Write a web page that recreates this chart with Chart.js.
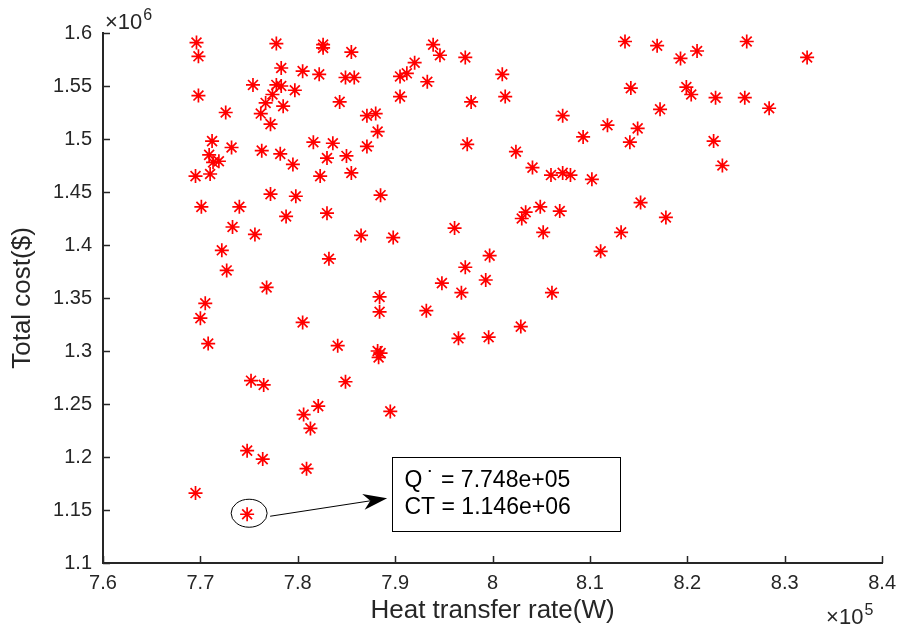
<!DOCTYPE html>
<html>
<head>
<meta charset="utf-8">
<script src="https://cdn.jsdelivr.net/npm/chart.js@4.4.0/dist/chart.umd.min.js"></script>
<style>
    html, body { margin: 0; padding: 0; background: #fff; }
    #wrap { width: 904px; height: 629px; }
</style>
</head>
<body>
<div id="wrap"><canvas id="scatterChart" width="904" height="629"></canvas></div>
<script>
// heat transfer rate (x10^5 W)
var heatRate = [
    7.696, 7.698, 7.698, 7.695, 7.701, 7.705, 7.700, 7.708, 7.695, 7.712,
    7.709, 7.713, 7.719, 7.710, 7.726, 7.732, 7.740, 7.733, 7.722, 7.727,
    7.754, 7.762, 7.767, 7.772, 7.774, 7.778, 7.783, 7.783, 7.778, 7.785,
    7.763, 7.782, 7.795, 7.797, 7.805, 7.772, 7.798, 7.756, 7.788, 7.768,
    7.752, 7.765, 7.748, 7.764, 7.748, 7.822, 7.826, 7.826, 7.816, 7.836,
    7.830, 7.823, 7.843, 7.849, 7.858, 7.855, 7.850, 7.855, 7.830, 7.832,
    7.865, 7.805, 7.821, 7.806, 7.813, 7.809, 7.841, 7.849, 7.871, 7.880,
    7.882, 7.871, 7.885, 7.884, 7.884, 7.882, 7.885, 7.883, 7.898, 7.895,
    7.905, 7.912, 7.920, 7.933, 7.905, 7.932, 7.939, 7.946, 7.972, 8.010,
    8.013, 7.978, 7.974, 7.961, 7.948, 7.968, 7.972, 7.993, 7.997, 7.965,
    7.996, 8.024, 8.041, 8.060, 8.072, 8.080, 8.102, 8.030, 8.034, 8.049,
    8.069, 8.052, 8.061, 8.029, 8.072, 8.093, 8.118, 8.149, 8.141, 8.142,
    8.136, 8.169, 8.193, 8.210, 8.261, 8.323, 8.199, 8.204, 8.229, 8.259,
    8.172, 8.284, 8.227, 8.236, 8.152, 8.178, 8.132, 8.111
];
// total cost (x10^6 $)
var totalCost = [
    1.591, 1.578, 1.541, 1.465, 1.436, 1.345, 1.331, 1.307, 1.166, 1.498,
    1.485, 1.478, 1.479, 1.467, 1.525, 1.492, 1.436, 1.417, 1.395, 1.376,
    1.551, 1.524, 1.534, 1.514, 1.542, 1.551, 1.550, 1.567, 1.590, 1.531,
    1.489, 1.486, 1.476, 1.546, 1.564, 1.448, 1.446, 1.410, 1.427, 1.360,
    1.272, 1.268, 1.206, 1.198, 1.146, 1.561, 1.589, 1.586, 1.497, 1.496,
    1.482, 1.465, 1.535, 1.558, 1.558, 1.582, 1.484, 1.468, 1.430, 1.387,
    1.409, 1.327, 1.248, 1.240, 1.227, 1.189, 1.305, 1.271, 1.522, 1.524,
    1.507, 1.493, 1.447, 1.351, 1.337, 1.300, 1.298, 1.294, 1.407, 1.243,
    1.559, 1.562, 1.572, 1.554, 1.540, 1.338, 1.589, 1.579, 1.577, 1.561,
    1.540, 1.535, 1.495, 1.416, 1.364, 1.355, 1.379, 1.367, 1.390, 1.312,
    1.313, 1.488, 1.473, 1.466, 1.468, 1.466, 1.462, 1.425, 1.431, 1.436,
    1.432, 1.412, 1.355, 1.323, 1.522, 1.502, 1.513, 1.510, 1.497, 1.548,
    1.592, 1.588, 1.576, 1.583, 1.592, 1.577, 1.549, 1.542, 1.539, 1.539,
    1.528, 1.529, 1.498, 1.475, 1.440, 1.426, 1.412, 1.394
];
// annotated minimum cost point
var bestQ = 7.748;
var bestCT = 1.146;

var xTickValues = [7.6, 7.7, 7.8, 7.9, 8.0, 8.1, 8.2, 8.3, 8.4];
var xTickLabels = ['7.6', '7.7', '7.8', '7.9', '8', '8.1', '8.2', '8.3', '8.4'];
var yTickValues = [1.1, 1.15, 1.2, 1.25, 1.3, 1.35, 1.4, 1.45, 1.5, 1.55, 1.6];
var yTickLabels = ['1.1', '1.15', '1.2', '1.25', '1.3', '1.35', '1.4', '1.45', '1.5', '1.55', '1.6'];

var fontFamily = "'Liberation Sans', Arial, Helvetica, sans-serif";
var axisColor = '#262626';

function sciText(v, pow) {
    // matlab style 7.748e+05
    var s = (v * Math.pow(10, pow)).toExponential(3);
    var parts = s.split('e');
    var e = parseInt(parts[1], 10);
    var sign = e < 0 ? '-' : '+';
    e = Math.abs(e);
    return parts[0] + 'e' + sign + (e < 10 ? '0' + e : '' + e);
}

function drawExponent(ctx, x, y, power) {
    ctx.save();
    ctx.fillStyle = axisColor;
    ctx.textBaseline = 'alphabetic';
    ctx.textAlign = 'left';
    ctx.font = '22px ' + fontFamily;
    ctx.fillText('\u00d710', x, y);
    var w = ctx.measureText('\u00d710').width;
    ctx.font = '16px ' + fontFamily;
    ctx.fillText(power, x + w + 1, y - 9);
    ctx.restore();
}

var matlabExtras = {
    id: 'matlabExtras',
    afterDraw: function(chart) {
        var ctx = chart.ctx;
        var xs = chart.scales.x;
        var ys = chart.scales.y;
        var area = chart.chartArea;

        // inward tick marks
        ctx.save();
        ctx.strokeStyle = axisColor;
        ctx.lineWidth = 1.5;
        ctx.beginPath();
        xTickValues.forEach(function(v) {
            var px = Math.round(xs.getPixelForValue(v)) + 0.5;
            ctx.moveTo(px, area.bottom);
            ctx.lineTo(px, area.bottom - 7);
        });
        yTickValues.forEach(function(v) {
            var py = Math.round(ys.getPixelForValue(v)) + 0.5;
            ctx.moveTo(area.left, py);
            ctx.lineTo(area.left + 7, py);
        });
        ctx.stroke();
        ctx.restore();

        drawExponent(ctx, area.left + 2, area.top - 4, '6');
        drawExponent(ctx, area.right - 56, chart.height - 5, '5');

        // annotation: circle, arrow and data tip box
        var bx = xs.getPixelForValue(bestQ);
        var by = ys.getPixelForValue(bestCT);
        ctx.save();
        ctx.strokeStyle = '#000';
        ctx.fillStyle = '#000';
        ctx.lineWidth = 1;
        ctx.beginPath();
        ctx.ellipse(bx + 2, by - 1, 18, 14, 0, 0, Math.PI * 2);
        ctx.stroke();

        var sx = bx + 23, sy = by + 2;
        var tx = bx + 140, ty = by - 16;
        var dx = tx - sx, dy = ty - sy;
        var len = Math.sqrt(dx * dx + dy * dy);
        var ux = dx / len, uy = dy / len;
        var nx = -uy, ny = ux;
        var headLen = 24, headW = 8, notch = 7;
        ctx.beginPath();
        ctx.moveTo(sx, sy);
        ctx.lineTo(tx - (headLen - notch) * ux, ty - (headLen - notch) * uy);
        ctx.stroke();
        ctx.beginPath();
        ctx.moveTo(tx, ty);
        ctx.lineTo(tx - headLen * ux + headW * nx, ty - headLen * uy + headW * ny);
        ctx.lineTo(tx - (headLen - notch) * ux, ty - (headLen - notch) * uy);
        ctx.lineTo(tx - headLen * ux - headW * nx, ty - headLen * uy - headW * ny);
        ctx.closePath();
        ctx.fill();

        var boxX = Math.round(bx + 145) + 0.5, boxY = Math.round(by - 57) + 0.5;
        var boxW = 228, boxH = 74;
        ctx.fillStyle = '#fff';
        ctx.fillRect(boxX, boxY, boxW, boxH);
        ctx.strokeRect(boxX, boxY, boxW, boxH);

        ctx.fillStyle = '#000';
        ctx.font = '23px ' + fontFamily;
        ctx.textBaseline = 'middle';
        ctx.textAlign = 'left';
        ctx.fillText('Q\u2009\u02d9 = ' + sciText(bestQ, 5), boxX + 12, boxY + 23);
        ctx.fillText('CT = ' + sciText(bestCT, 6), boxX + 12, boxY + 50);
        ctx.restore();
    }
};

var points = heatRate.map(function(q, i) {
    return { x: q, y: totalCost[i] };
});

var canvas = document.getElementById('scatterChart');
var scatterChart = new Chart(canvas, {
    type: 'scatter',
    data: {
        datasets: [{
            label: 'Designs',
            data: points,
            pointStyle: 'star',
            pointRadius: 7,
            pointHoverRadius: 7,
            borderColor: '#ff0000',
            backgroundColor: '#ff0000',
            pointBorderWidth: 1.7
        }]
    },
    options: {
        responsive: false,
        animation: false,
        devicePixelRatio: 1,
        layout: { padding: { top: 33, right: 17, left: 0, bottom: 0 } },
        plugins: {
            legend: { display: false },
            tooltip: { enabled: false }
        },
        scales: {
            x: {
                type: 'linear',
                min: 7.6,
                max: 8.4,
                afterBuildTicks: function(scale) {
                    scale.ticks = xTickValues.map(function(v) { return { value: v }; });
                },
                afterFit: function(scale) { scale.height = 66; },
                ticks: {
                    autoSkip: false,
                    maxRotation: 0,
                    padding: 8,
                    color: axisColor,
                    font: { family: fontFamily, size: 20 },
                    callback: function(value, index) { return xTickLabels[index]; }
                },
                grid: { display: false, drawTicks: false },
                border: { display: true, color: axisColor, width: 2 },
                title: {
                    display: true,
                    text: 'Heat transfer rate(W)',
                    color: axisColor,
                    font: { family: fontFamily, size: 26 },
                    padding: { top: 0, bottom: 3 }
                }
            },
            y: {
                type: 'linear',
                min: 1.1,
                max: 1.6,
                afterBuildTicks: function(scale) {
                    scale.ticks = yTickValues.map(function(v) { return { value: v }; });
                },
                afterFit: function(scale) { scale.width = 103; },
                ticks: {
                    autoSkip: false,
                    padding: 11,
                    color: axisColor,
                    font: { family: fontFamily, size: 20 },
                    callback: function(value, index) { return yTickLabels[index]; }
                },
                grid: { display: false, drawTicks: false },
                border: { display: true, color: axisColor, width: 2 },
                title: {
                    display: true,
                    text: 'Total cost($)',
                    color: axisColor,
                    font: { family: fontFamily, size: 26 },
                    padding: { top: 7, bottom: 0 }
                }
            }
        }
    },
    plugins: [matlabExtras]
});
</script>
</body>
</html>
